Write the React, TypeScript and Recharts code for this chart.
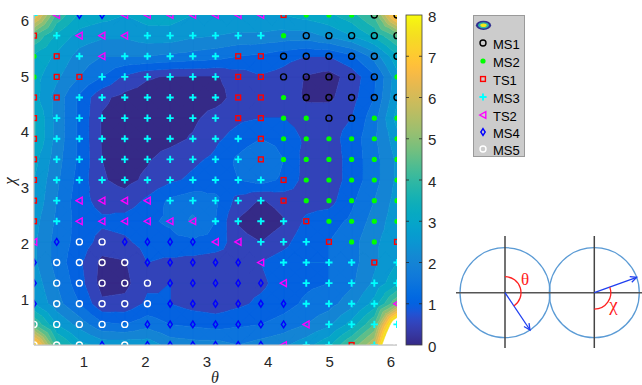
import React from 'react';
import { ScatterChart, Scatter, XAxis, YAxis } from 'recharts';

// grid coordinates (theta = chi grid)
const THETA = [0.1848, 0.5544, 0.924, 1.2936, 1.6632, 2.0328, 2.4024, 2.772, 3.1416, 3.5112, 3.8808, 4.2504, 4.62, 4.9896, 5.3592, 5.7288, 6.0984];
const CHI = [0.1848, 0.5544, 0.924, 1.2936, 1.6632, 2.0328, 2.4024, 2.772, 3.1416, 3.5112, 3.8808, 4.2504, 4.62, 4.9896, 5.3592, 5.7288, 6.0984];
const THETA_TICKS = [1, 2, 3, 4, 5, 6];
const CHI_TICKS = [1, 2, 3, 4, 5, 6];
const LEVELS = [0, 0.5, 1, 1.5, 2, 2.5, 3, 3.5, 4, 4.5, 5, 5.5, 6, 6.5, 7, 7.5, 8];
const COLORBAR_TICKS = [0, 1, 2, 3, 4, 5, 6, 7, 8];

// energy surface, rows from top (chi = 6.10) to bottom (chi = 0.18)
const ENERGY_TOP_DOWN: number[][] = [
  [7.0, 4.4, 3.4, 3.2, 3.0, 3.2, 3.2, 3.0, 3.0, 3.0, 3.0, 3.0, 3.2, 3.4, 3.8, 4.6, 7.6],
  [4.5, 3.4, 2.8, 2.6, 2.6, 2.8, 2.8, 2.6, 2.5, 2.4, 2.4, 2.3, 2.3, 2.6, 3.0, 3.6, 4.6],
  [3.4, 2.9, 2.3, 2.0, 2.0, 2.0, 1.9, 1.8, 1.7, 1.5, 1.4, 1.2, 1.0, 1.0, 1.4, 2.2, 3.4],
  [3.2, 2.6, 2.0, 1.5, 0.9, 0.55, 0.45, 0.45, 0.45, 0.7, 0.95, 0.8, 0.45, 0.3, 0.7, 1.4, 2.8],
  [3.2, 2.3, 1.4, 0.6, 0.35, 0.25, 0.25, 0.25, 0.3, 0.7, 0.9, 0.9, 0.4, 0.4, 0.8, 1.5, 2.9],
  [3.6, 2.3, 1.4, 0.45, 0.3, 0.2, 0.3, 0.4, 0.7, 0.9, 1.0, 1.0, 0.8, 0.8, 1.0, 1.8, 3.2],
  [3.6, 2.3, 1.4, 0.45, 0.3, 0.3, 0.35, 0.55, 0.9, 1.2, 1.5, 1.3, 0.9, 0.8, 1.2, 1.9, 2.8],
  [3.2, 2.2, 1.4, 0.5, 0.3, 0.45, 0.7, 0.9, 1.1, 1.6, 2.0, 1.5, 0.8, 0.7, 1.2, 1.8, 2.6],
  [3.0, 2.1, 1.3, 0.55, 0.35, 0.6, 0.9, 1.1, 1.3, 1.5, 1.7, 1.4, 0.8, 0.7, 1.2, 1.8, 2.6],
  [2.9, 2.0, 1.2, 0.8, 0.7, 1.1, 1.6, 1.8, 1.6, 0.8, 0.45, 0.7, 0.8, 0.8, 1.4, 2.0, 2.7],
  [2.7, 1.9, 1.3, 1.1, 1.2, 1.4, 1.6, 2.1, 1.5, 0.45, 0.15, 0.45, 1.1, 1.3, 1.6, 2.2, 2.8],
  [2.6, 1.8, 1.3, 0.8, 0.9, 1.2, 1.3, 1.4, 1.3, 0.7, 0.5, 0.8, 1.4, 1.5, 1.8, 2.4, 2.8],
  [2.6, 1.8, 1.1, 0.35, 0.45, 1.0, 0.9, 0.8, 0.7, 0.8, 1.0, 1.3, 1.5, 1.5, 1.8, 2.4, 3.0],
  [2.8, 2.0, 1.2, 0.3, 0.35, 0.9, 1.0, 0.8, 0.6, 0.8, 0.9, 1.2, 1.4, 1.5, 1.9, 2.6, 3.4],
  [3.0, 2.2, 1.5, 0.6, 0.65, 1.1, 1.0, 0.8, 0.7, 0.9, 1.1, 1.3, 1.6, 1.8, 2.3, 3.2, 5.0],
  [4.5, 3.0, 2.3, 1.6, 1.5, 1.8, 1.5, 1.4, 1.3, 1.4, 1.5, 1.7, 2.0, 2.4, 3.2, 4.5, 9.5],
  [7.8, 4.2, 3.2, 2.8, 2.8, 2.8, 2.3, 2.2, 2.2, 2.0, 2.2, 2.4, 2.8, 3.4, 4.6, 6.0, 12.0],
];

// state labels, rows from top to bottom
// O=MS1 G=MS2 S=TS1 P=MS3 T=TS2 D=MS4 W=MS5
const STATES_TOP_DOWN: string[] = [
  'PTDDTTTTTTTSGGGOO',
  'SPTTTPPPPPPGOOOOO',
  'GSPTPPPPPSSOOOOOO',
  'GSSPPPPPPSSOOOOOG',
  'SSPPPPPPPSSGOOOOO',
  'SPPPPPPPPSSGGOOGG',
  'SPPPPPPPPPSGGGGGG',
  'SPPPPPPPPPSGGGGGG',
  'SPPPPPPPPPPSGGGGG',
  'SPTTTTPPPPPSGGGGG',
  'SPTTTTTTPPPPSGGGG',
  'TDWWDDDDTTPPPSGGS',
  'DWWWWDDDDDTPPPPSP',
  'DWWWWWDDDDDTPPPPP',
  'DWWWWWDDDDDDPPPPT',
  'WWWWWDDDDDDDTPPPP',
  'WWWDWDDDDDDTPPSPW',
];

const SERIES = [
  { code: 'O', name: 'MS1' },
  { code: 'G', name: 'MS2' },
  { code: 'S', name: 'TS1' },
  { code: 'P', name: 'MS3' },
  { code: 'T', name: 'TS2' },
  { code: 'D', name: 'MS4' },
  { code: 'W', name: 'MS5' },
];

const PARULA: number[][] = [
  [0.2081, 0.1663, 0.5292], [0.2116, 0.1898, 0.5777], [0.2123, 0.2138, 0.627], [0.2081, 0.2386, 0.6771],
  [0.1959, 0.2645, 0.7279], [0.1707, 0.2919, 0.7792], [0.1253, 0.3242, 0.8303], [0.0591, 0.3598, 0.8683],
  [0.0117, 0.3875, 0.882], [0.006, 0.4086, 0.8828], [0.0165, 0.4266, 0.8786], [0.0329, 0.443, 0.872],
  [0.0498, 0.4586, 0.8641], [0.0629, 0.4737, 0.8554], [0.0723, 0.4887, 0.8467], [0.0779, 0.504, 0.8384],
  [0.0793, 0.52, 0.8312], [0.0749, 0.5375, 0.8263], [0.0641, 0.557, 0.824], [0.0488, 0.5772, 0.8228],
  [0.0343, 0.5966, 0.8199], [0.0265, 0.6137, 0.8135], [0.0239, 0.6287, 0.8038], [0.0231, 0.6418, 0.7913],
  [0.0228, 0.6535, 0.7768], [0.0267, 0.6642, 0.7607], [0.0384, 0.6743, 0.7436], [0.059, 0.6838, 0.7254],
  [0.0843, 0.6928, 0.7062], [0.1133, 0.7015, 0.6859], [0.1453, 0.7098, 0.6646], [0.1801, 0.7177, 0.6424],
  [0.2178, 0.725, 0.6193], [0.2586, 0.7317, 0.5954], [0.3022, 0.7376, 0.5712], [0.3482, 0.7424, 0.5473],
  [0.3953, 0.7459, 0.5244], [0.442, 0.7481, 0.5033], [0.4871, 0.7491, 0.484], [0.53, 0.7491, 0.4661],
  [0.5709, 0.7485, 0.4494], [0.6099, 0.7473, 0.4337], [0.6473, 0.7456, 0.4188], [0.6834, 0.7435, 0.4044],
  [0.7184, 0.7411, 0.3905], [0.7525, 0.7384, 0.3768], [0.7858, 0.7356, 0.3633], [0.8185, 0.7327, 0.3498],
  [0.8507, 0.7299, 0.336], [0.8824, 0.7274, 0.3217], [0.9139, 0.7258, 0.3063], [0.945, 0.7261, 0.2886],
  [0.9739, 0.7314, 0.2666], [0.9938, 0.7455, 0.2403], [0.999, 0.7653, 0.2164], [0.9955, 0.7861, 0.1967],
  [0.988, 0.8066, 0.1794], [0.9789, 0.8271, 0.1633], [0.9697, 0.8481, 0.1475], [0.9626, 0.8705, 0.1309],
  [0.9589, 0.8949, 0.1132], [0.9598, 0.9218, 0.0948], [0.9661, 0.9514, 0.0755], [0.9763, 0.9831, 0.0538],
];

function parula(t: number): string {
  const c = Math.max(0, Math.min(1, t)) * (PARULA.length - 1);
  const lo = Math.floor(c);
  const hi = Math.min(PARULA.length - 1, lo + 1);
  const f = c - lo;
  const rgb = [0, 1, 2].map((k) => Math.round(255 * (PARULA[lo][k] * (1 - f) + PARULA[hi][k] * f)));
  return `rgb(${rgb[0]},${rgb[1]},${rgb[2]})`;
}

const N = THETA.length;
const ENERGY = ENERGY_TOP_DOWN.slice().reverse();
const STATES = STATES_TOP_DOWN.slice().reverse();
const CMAX = LEVELS[LEVELS.length - 1];

type CPoint = { theta: number; chi: number; v: number };
const CONTOUR_POINTS: CPoint[] = [];
for (let j = 0; j < N; j++) for (let i = 0; i < N; i++) CONTOUR_POINTS.push({ theta: THETA[i], chi: CHI[j], v: ENERGY[j][i] });
for (let j = 0; j < N - 1; j++)
  for (let i = 0; i < N - 1; i++)
    CONTOUR_POINTS.push({
      theta: (THETA[i] + THETA[i + 1]) / 2,
      chi: (CHI[j] + CHI[j + 1]) / 2,
      v: (ENERGY[j][i] + ENERGY[j][i + 1] + ENERGY[j + 1][i] + ENERGY[j + 1][i + 1]) / 4,
    });

const MARKER_DATA: Record<string, { theta: number; chi: number }[]> = {};
SERIES.forEach((s) => (MARKER_DATA[s.code] = []));
for (let j = 0; j < N; j++)
  for (let i = 0; i < N; i++) {
    const c = STATES[j][i];
    if (MARKER_DATA[c]) MARKER_DATA[c].push({ theta: THETA[i], chi: CHI[j] });
  }

type P = { x: number; y: number; v: number };
function clip(poly: P[], t: number, above: boolean): P[] {
  const out: P[] = [];
  for (let k = 0; k < poly.length; k++) {
    const a = poly[k];
    const b = poly[(k + 1) % poly.length];
    const ina = above ? a.v >= t : a.v <= t;
    const inb = above ? b.v >= t : b.v <= t;
    if (ina) out.push(a);
    if (ina !== inb) {
      const f = (t - a.v) / (b.v - a.v);
      out.push({ x: a.x + f * (b.x - a.x), y: a.y + f * (b.y - a.y), v: t });
    }
  }
  return out;
}

const ContourLayer = (props: any) => {
  const pts = props.points as { x: number; y: number }[];
  if (!pts || pts.length !== CONTOUR_POINTS.length) return <g />;
  const get = (k: number): P => ({ x: pts[k].x, y: pts[k].y, v: CONTOUR_POINTS[k].v });
  const nb = LEVELS.length - 1;
  const d: string[] = new Array(nb).fill('');
  for (let j = 0; j < N - 1; j++) {
    for (let i = 0; i < N - 1; i++) {
      const a = get(j * N + i);
      const b = get(j * N + i + 1);
      const c = get((j + 1) * N + i + 1);
      const e = get((j + 1) * N + i);
      const m = get(N * N + j * (N - 1) + i);
      const tris = [[a, b, m], [b, c, m], [c, e, m], [e, a, m]];
      for (const tri of tris) {
        const vmin = Math.min(tri[0].v, tri[1].v, tri[2].v);
        const vmax = Math.max(tri[0].v, tri[1].v, tri[2].v);
        for (let k = 0; k < nb; k++) {
          const lo = LEVELS[k];
          const hi = LEVELS[k + 1];
          if (vmax < lo || vmin > hi) continue;
          let poly = clip(tri, lo, true);
          if (poly.length < 3) continue;
          poly = clip(poly, hi, false);
          if (poly.length < 3) continue;
          d[k] += 'M' + poly.map((p) => `${p.x.toFixed(2)},${p.y.toFixed(2)}`).join('L') + 'Z';
        }
      }
    }
  }
  return (
    <g>
      {d.map((s, k) =>
        s ? (
          <path key={k} d={s} fill={parula(LEVELS[k] / CMAX)} stroke={parula(LEVELS[k] / CMAX)} strokeWidth={0.6} strokeLinejoin="round" />
        ) : null,
      )}
    </g>
  );
};

function marker(code: string, cx: number, cy: number) {
  switch (code) {
    case 'O':
      return <circle cx={cx} cy={cy} r={3} fill="none" stroke="#000000" strokeWidth={1.4} />;
    case 'W':
      return <circle cx={cx} cy={cy} r={3} fill="none" stroke="#ffffff" strokeWidth={1.4} />;
    case 'G':
      return <circle cx={cx} cy={cy} r={2.6} fill="#00ff00" />;
    case 'S':
      return <rect x={cx - 2.4} y={cy - 2.4} width={4.8} height={4.8} fill="none" stroke="#ff0000" strokeWidth={1.4} />;
    case 'P':
      return <path d={`M${cx - 3.6},${cy}H${cx + 3.6}M${cx},${cy - 3.6}V${cy + 3.6}`} stroke="#00ffff" strokeWidth={1.9} fill="none" />;
    case 'T':
      return <polygon points={`${cx - 3.3},${cy} ${cx + 2.8},${cy - 3.4} ${cx + 2.8},${cy + 3.4}`} fill="none" stroke="#ff00ff" strokeWidth={1.4} />;
    case 'D':
      return <polygon points={`${cx},${cy - 3.4} ${cx + 2.2},${cy} ${cx},${cy + 3.4} ${cx - 2.2},${cy}`} fill="none" stroke="#0000ff" strokeWidth={1.4} />;
    default:
      return <g />;
  }
}

const NoShape = () => <g />;

function arrowHead(x1: number, y1: number, x2: number, y2: number, color: string) {
  const L = Math.hypot(x2 - x1, y2 - y1);
  const bx = -(x2 - x1) / L;
  const by = -(y2 - y1) / L;
  const len = 7;
  const ang = 0.45;
  const side = (s: number) => {
    const c = Math.cos(s * ang);
    const sn = Math.sin(s * ang);
    const rx = bx * c - by * sn;
    const ry = bx * sn + by * c;
    return `${(x2 + len * rx).toFixed(2)},${(y2 + len * ry).toFixed(2)}`;
  };
  return <polyline points={`${side(1)} ${x2},${y2} ${side(-1)}`} fill="none" stroke={color} strokeWidth={1.3} />;
}

const FONT = '"Liberation Sans", Arial, Helvetica, sans-serif';
const SERIF = '"Liberation Serif", "Times New Roman", serif';

export default function App() {
  const cbX = 406;
  const cbY = 15;
  const cbW = 16;
  const cbH = 330;
  const cby = (v: number) => cbY + cbH - (v / CMAX) * cbH;
  const legendY = [43, 61, 79, 97, 115, 132, 149];
  return (
    <div style={{ position: 'absolute', left: 0, top: 0, width: 642, height: 385, background: '#ffffff', overflow: 'hidden' }}>
      <ScatterChart width={642} height={385} margin={{ top: 15, right: 245, bottom: 10, left: 4 }}>
        <XAxis
          type="number"
          dataKey="theta"
          domain={[THETA[0], THETA[N - 1]]}
          ticks={THETA_TICKS}
          allowDataOverflow
          axisLine={{ stroke: '#c4c4c4' }}
          tickLine={false}
          tickSize={6}
          tickMargin={5}
          height={30}
          tick={{ fontSize: 15, fill: '#262626', fontFamily: FONT }}
        />
        <YAxis
          type="number"
          dataKey="chi"
          domain={[CHI[0], CHI[N - 1]]}
          ticks={CHI_TICKS}
          allowDataOverflow
          axisLine={{ stroke: '#c4c4c4' }}
          tickLine={false}
          tickSize={0}
          tickMargin={5}
          width={30}
          tick={{ fontSize: 15, fill: '#262626', fontFamily: FONT }}
        />
        <Scatter
          name="surface"
          data={CONTOUR_POINTS}
          shape={NoShape}
          line={ContourLayer}
          lineType="joint"
          legendType="none"
          isAnimationActive={false}
        />
        {SERIES.map((s) => (
          <Scatter
            key={s.code}
            name={s.name}
            data={MARKER_DATA[s.code]}
            isAnimationActive={false}
            shape={(p: any) => marker(s.code, p.cx, p.cy)}
          />
        ))}
      </ScatterChart>
      <svg width={642} height={385} style={{ position: 'absolute', left: 0, top: 0, pointerEvents: 'none' }}>
        <defs>
          <linearGradient id="parulaGrad" x1="0" y1="1" x2="0" y2="0">
            {PARULA.map((_, k) => (
              <stop key={k} offset={k / (PARULA.length - 1)} stopColor={parula(k / (PARULA.length - 1))} />
            ))}
          </linearGradient>
        </defs>
        {/* plot frame lines (left / bottom) */}
        <line x1={34} y1={15} x2={34} y2={345} stroke="#c8c8c8" strokeWidth={1} />
        <line x1={34} y1={345} x2={397} y2={345} stroke="#c8c8c8" strokeWidth={1} />
        {/* axis labels */}
        <text x={215} y={383} fontFamily={SERIF} fontStyle="italic" fontSize={16} fill="#262626" textAnchor="middle">θ</text>
        <text x={0} y={0} transform="translate(15,181) rotate(-90)" fontFamily={SERIF} fontStyle="italic" fontSize={17} fill="#262626" textAnchor="middle">χ</text>
        {/* colorbar */}
        <rect x={cbX} y={cbY} width={cbW} height={cbH} fill="url(#parulaGrad)" stroke="#404040" strokeWidth={0.8} />
        {COLORBAR_TICKS.map((t) => (
          <g key={t}>
            {t > 0 && t < CMAX ? (
              <path d={`M${cbX},${cby(t)}h3M${cbX + cbW},${cby(t)}h-3`} stroke="#262626" strokeWidth={0.8} />
            ) : null}
            <text x={cbX + 22} y={cby(t) + 1} fontFamily={FONT} fontSize={15} fill="#262626" dominantBaseline="central">
              {t}
            </text>
          </g>
        ))}
        {/* legend */}
        <rect x={473.5} y={15.5} width={51} height={141} fill="#cccccc" stroke="#9a9a9a" strokeWidth={1} />
        <ellipse cx={483.5} cy={25.3} rx={7.6} ry={4.6} fill="#30308f" />
        <ellipse cx={483.5} cy={25.3} rx={5.4} ry={3.1} fill="#2fb3a6" />
        <ellipse cx={483.5} cy={25.3} rx={3.2} ry={1.8} fill="#f3e51a" />
        {SERIES.map((s, k) => (
          <g key={s.code}>
            {marker(s.code, 483, legendY[k])}
            <text x={493} y={legendY[k] + 1} fontFamily={FONT} fontSize={13} fill="#000000" dominantBaseline="central">
              {s.name}
            </text>
          </g>
        ))}
        {/* angle diagrams */}
        <circle cx={505} cy={292.7} r={45} fill="none" stroke="#5b9bd5" strokeWidth={1.3} />
        <circle cx={594.3} cy={292.7} r={45} fill="none" stroke="#5b9bd5" strokeWidth={1.3} />
        <line x1={456} y1={292.7} x2={642} y2={292.7} stroke="#555555" strokeWidth={1.5} />
        <line x1={505} y1={236} x2={505} y2={348} stroke="#444444" strokeWidth={1.5} />
        <line x1={594.3} y1={236} x2={594.3} y2={348} stroke="#444444" strokeWidth={1.5} />
        <line x1={505} y1={292.7} x2={530} y2={330} stroke="#1f3ff0" strokeWidth={1.3} />
        {arrowHead(505, 292.7, 530, 330, '#1f3ff0')}
        <line x1={594.3} y1={292.7} x2={636.7} y2={277.3} stroke="#1f3ff0" strokeWidth={1.3} />
        {arrowHead(594.3, 292.7, 636.7, 277.3, '#1f3ff0')}
        <path d="M505,276.7 A16,16 0 0 1 513.9,306" fill="none" stroke="#ff2020" strokeWidth={1.3} />
        <path d="M594.3,309.2 A16.5,16.5 0 0 0 609.8,287.1" fill="none" stroke="#ff2020" strokeWidth={1.3} />
        <text x={525} y={284.5} fontFamily={SERIF} fontSize={17} fill="#ff2020" textAnchor="middle">θ</text>
        <text x={613.5} y={311} fontFamily={SERIF} fontSize={19} fill="#ff2020" textAnchor="middle">χ</text>
      </svg>
    </div>
  );
}
